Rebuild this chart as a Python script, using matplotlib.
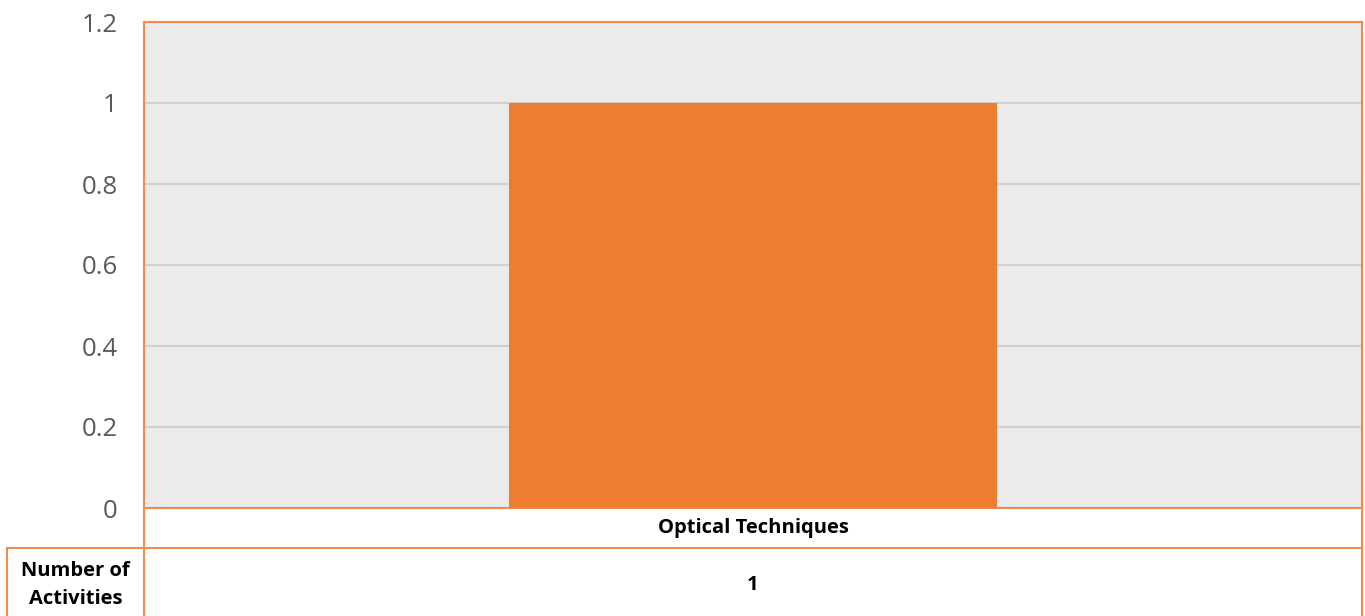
import matplotlib
matplotlib.use("Agg")
import matplotlib.pyplot as plt
from matplotlib.lines import Line2D

categories = ["Optical Techniques"]
values = [1]
row_label = "Number of\nActivities"
yticks = [0, 0.2, 0.4, 0.6, 0.8, 1, 1.2]
ytick_labels = ["0", "0.2", "0.4", "0.6", "0.8", "1", "1.2"]

W, H = 1365, 616
ORANGE = "#ED7D31"
EDGE = "#F28C4A"

plt.rcParams["font.family"] = ["Open Sans", "DejaVu Sans"]

fig = plt.figure(figsize=(W / 100, H / 100), dpi=100)


def fx(px):
    return px / W


def fy(py):
    return 1 - py / H


left, right, top, bottom = 144, 1362, 22, 508
ax = fig.add_axes([fx(left), fy(bottom), fx(right) - fx(left), fy(top) - fy(bottom)])
ax.set_facecolor("#EBEBEB")
ax.bar(range(len(categories)), values, width=0.4, color=ORANGE, zorder=3)
ax.set_xlim(-0.5, len(categories) - 0.5)
ax.set_ylim(0, 1.2)
ax.set_yticks(yticks)
ax.set_yticklabels(ytick_labels, fontsize=18.5, color="#595959")
ax.set_xticks([])
ax.tick_params(axis="y", length=0, pad=19)
ax.yaxis.grid(True, color="#D0D0D0", linewidth=1.5, zorder=0)
ax.set_axisbelow(True)
for sp in ax.spines.values():
    sp.set_color(EDGE)
    sp.set_linewidth(1.5)

# data table below the plot
row1_bottom = 548
row2_bottom = 616
label_left = 7
lines = [
    ([left, left], [bottom, row2_bottom]),
    ([right, right], [bottom, row2_bottom]),
    ([left, right], [row1_bottom, row1_bottom]),
    ([label_left, left], [row1_bottom, row1_bottom]),
    ([label_left, label_left], [row1_bottom, row2_bottom]),
]
for xs, ys in lines:
    fig.add_artist(Line2D([fx(x) for x in xs], [fy(y) for y in ys],
                          color=EDGE, linewidth=1.5))

col_w = (right - left) / len(categories)
for i, (cat, val) in enumerate(zip(categories, values)):
    cx = left + col_w * (i + 0.5)
    fig.text(fx(cx), fy((bottom + row1_bottom) / 2), cat, ha="center", va="center",
             fontsize=14.5, fontweight="bold", color="black")
    fig.text(fx(cx), fy((row1_bottom + row2_bottom) / 2 + 3), str(val), ha="center",
             va="center", fontsize=14.5, fontweight="bold", color="black")

fig.text(fx((label_left + left) / 2), fy((row1_bottom + row2_bottom) / 2 + 3), row_label,
         ha="center", va="center", fontsize=14.5, fontweight="bold", color="black",
         linespacing=1.55)

fig.savefig("out.png", dpi=100)
